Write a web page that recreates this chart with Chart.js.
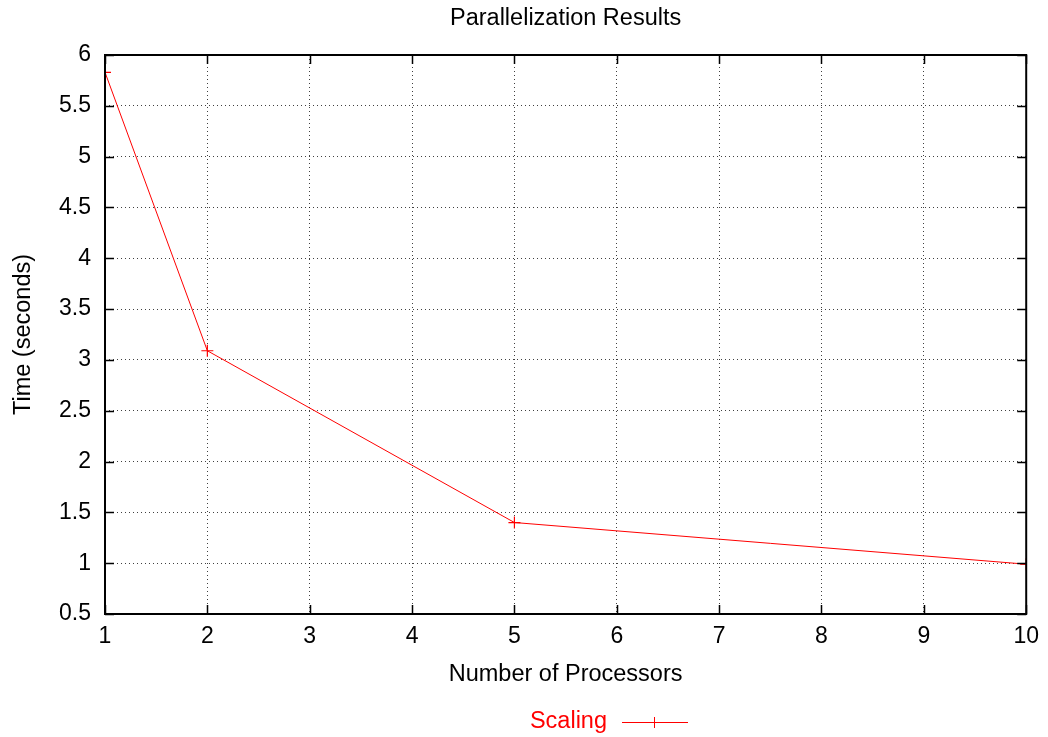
<!DOCTYPE html>
<html><head><meta charset="utf-8">
<script src="https://cdn.jsdelivr.net/npm/chart.js@4/dist/chart.umd.min.js"></script>
<style>html,body{margin:0;padding:0;background:#fff}#wrap{width:1048px;height:737px}</style>
</head><body><div id="wrap"><canvas id="c" width="1048" height="737"></canvas></div>
<script>
const processors = [1, 2, 5, 10];
const times = [5.83, 3.09, 1.40, 0.99];
const seriesName = 'Scaling';
const chartTitle = 'Parallelization Results';
const xTitle = 'Number of Processors';
const yTitle = 'Time (seconds)';
const FONT = '"Liberation Sans", Arial, Helvetica, sans-serif';

const framePlugin = {
  id: 'frame',
  afterDatasetsDraw(chart) {
    const ctx = chart.ctx, a = chart.chartArea;
    const xs = chart.scales.x, ys = chart.scales.y;
    ctx.save();
    ctx.strokeStyle = '#000'; ctx.lineWidth = 1.5;
    const tl = 9;
    ctx.beginPath();
    ys.ticks.forEach(t => {
      const y = Math.round(ys.getPixelForValue(t.value)) + 0.5;
      ctx.moveTo(a.left, y); ctx.lineTo(a.left + tl, y);
      ctx.moveTo(a.right, y); ctx.lineTo(a.right - tl, y);
    });
    xs.ticks.forEach(t => {
      const x = Math.round(xs.getPixelForValue(t.value)) + 0.5;
      ctx.moveTo(x, a.bottom); ctx.lineTo(x, a.bottom - tl);
      ctx.moveTo(x, a.top); ctx.lineTo(x, a.top + tl);
    });
    ctx.stroke();
    ctx.lineWidth = 2;
    ctx.strokeRect(a.left, a.top, a.right - a.left, a.bottom - a.top);
    // titles
    ctx.fillStyle = '#000';
    ctx.font = '23.5px ' + FONT;
    ctx.textAlign = 'center'; ctx.textBaseline = 'middle';
    const cx = (a.left + a.right) / 2;
    ctx.fillText(chartTitle, cx, 19);
    ctx.fillText(xTitle, cx, 675);
    ctx.save();
    ctx.translate(24, (a.top + a.bottom) / 2);
    ctx.rotate(-Math.PI / 2);
    ctx.fillText(yTitle, 0, 0);
    ctx.restore();
    // legend
    ctx.fillStyle = '#ff0000';
    ctx.textAlign = 'right';
    ctx.fillText(seriesName, 607, 722);
    ctx.strokeStyle = '#ff0000'; ctx.lineWidth = 1;
    ctx.beginPath();
    ctx.moveTo(622, 722.5); ctx.lineTo(688, 722.5);
    ctx.moveTo(654.5, 717); ctx.lineTo(654.5, 728);
    ctx.stroke();
    ctx.restore();
  }
};

new Chart(document.getElementById('c'), {
  type: 'line',
  data: {
    datasets: [{
      label: seriesName,
      data: processors.map((p, i) => ({ x: p, y: times[i] })),
      borderColor: '#ff0000',
      backgroundColor: '#ff0000',
      borderWidth: 1,
      pointStyle: 'cross',
      pointRadius: 6,
      pointBorderWidth: 1.2,
      tension: 0,
      fill: false
    }]
  },
  options: {
    responsive: false,
    animation: false,
    devicePixelRatio: 1,
    layout: { padding: { top: 55, right: 18, left: 0, bottom: 0 } },
    plugins: { legend: { display: false }, title: { display: false }, tooltip: { enabled: false } },
    scales: {
      x: {
        type: 'linear', min: 1, max: 10,
        ticks: { stepSize: 1, color: '#000', font: { family: FONT, size: 23 }, padding: 9, maxRotation: 0,
                 callback: v => String(v) },
        grid: { color: 'rgba(0,0,0,0.75)', lineWidth: 1, drawTicks: false },
        border: { display: false, dash: [1, 3] },
        afterFit(s) { s.height = 123; }
      },
      y: {
        type: 'linear', min: 0.5, max: 6,
        ticks: { stepSize: 0.5, color: '#000', font: { family: FONT, size: 23 }, padding: 14,
                 callback: v => String(v) },
        grid: { color: 'rgba(0,0,0,0.75)', lineWidth: 1, drawTicks: false },
        border: { display: false, dash: [1, 3] },
        afterFit(s) { s.width = 105; }
      }
    }
  },
  plugins: [framePlugin]
});
</script>
</body></html>
